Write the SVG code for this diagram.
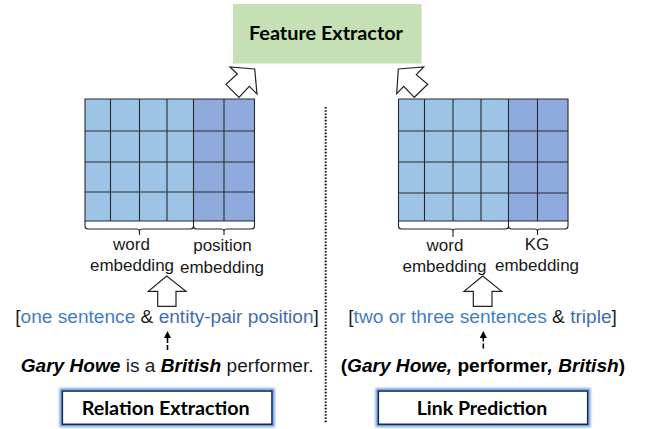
<svg xmlns="http://www.w3.org/2000/svg" width="647" height="429" viewBox="0 0 647 429">
<style>
text{font-family:"Liberation Sans",Arial,sans-serif;font-size:17px;fill:#1a1a1a}
.m{text-anchor:middle}
.s{font-size:19.1px}
.t{font-family:Lato,"Open Sans",sans-serif;font-weight:700;font-size:18px;fill:#000}
.c{fill:#9DC3E6}
.d{fill:#8FAADC}
.g{fill:none;stroke:#2a2a2a;stroke-width:1.1}
.w{fill:#fff;stroke:#222;stroke-width:1.2}
.br{fill:none;stroke:#222;stroke-width:1.1}
.a{fill:#3F7FBF}
.b{fill:#3E6DAF}
.bi{font-weight:700;font-style:italic;fill:#000}
.bo{font-weight:700;fill:#000}
.box{fill:#fff;stroke:#12284c;stroke-width:1.6;filter:url(#glow)}
.da{stroke:#000;stroke-width:1.6;stroke-dasharray:5 2;marker-end:url(#tip)}
</style>
<defs>
<filter id="glow" x="-10%" y="-30%" width="120%" height="160%">
<feMorphology in="SourceAlpha" operator="dilate" radius="1.5" result="e"/>
<feGaussianBlur in="e" stdDeviation="1.1" result="bl"/>
<feFlood flood-color="#6f9fe6"/>
<feComposite in2="bl" operator="in" result="f"/>
<feMerge><feMergeNode in="f"/><feMergeNode in="SourceGraphic"/></feMerge>
</filter>
<marker id="tip" markerWidth="8" markerHeight="7" refX="0" refY="3.500" orient="auto" markerUnits="userSpaceOnUse"><path d="M0 0L7 3.500L0 7Z" fill="#000"/></marker>
</defs>

<g id="feature-extractor">
<rect x="233" y="4" width="188.500" height="59.500" fill="#C5E0B4"/>
<text class="t m" x="326" y="40" textLength="154" lengthAdjust="spacingAndGlyphs">Feature Extractor</text>
</g>

<g id="left-grid">
<rect class="c" x="85" y="99" width="108.500" height="122"/>
<rect class="d" x="193.500" y="99" width="61" height="122"/>
<path class="g" d="M85 221V99H254.500V221ZM110.500 99V221M139.500 99V221M167 99V221M193.500 99V221M224 99V221M85 131H254.500M85 162H254.500M85 192H254.500M85 221H254.500"/>
<path class="br" d="M85 221V226Q85 229 88 229H136Q139.500 229 139.500 231V235M139.500 231Q139.500 229 143 229H190.500Q193.500 229 193.500 226V221M193.500 226Q193.500 229 196.500 229H221Q224 229 224 231V235M224 231Q224 229 227 229H251.500Q254.500 229 254.500 226V221"/>
<text class="m" x="131.500" y="250">word</text>
<text class="m" x="132" y="271">embedding</text>
<text class="m" x="222.500" y="251">position</text>
<text class="m" x="222" y="272.500">embedding</text>
</g>

<g id="right-grid">
<rect class="c" x="398.500" y="99" width="110" height="122"/>
<rect class="d" x="508.500" y="99" width="59.500" height="122"/>
<path class="g" d="M398.500 221V99H568V221ZM424.500 99V221M453 99V221M481 99V221M508.500 99V221M537.500 99V221M398.500 131H568M398.500 162H568M398.500 193H568"/>
<path class="br" d="M398.500 221V226Q398.500 229 401.500 229H450Q453 229 453 231V237M453 231Q453 229 456 229H505.500Q508.500 229 508.500 226V221M508.500 226Q508.500 229 511.500 229H534.500Q537.500 229 537.500 231V235M537.500 231Q537.500 229 540.500 229H565Q568 229 568 226V221"/>
<text class="m" x="445" y="251">word</text>
<text class="m" x="444.500" y="272">embedding</text>
<text class="m" x="537" y="249.500">KG</text>
<text class="m" x="537" y="271">embedding</text>
</g>

<g id="connectors">
<polygon class="w" points="254.700,69 230,67 237.300,74 226,84.300 239,97.300 249.300,86.300 257,94"/>
<polygon class="w" points="398.300,69 423.700,67 416.300,74.700 427.700,84.300 414.300,97.300 403.700,86.300 396.700,93.700"/>
<polygon class="w" points="166.700,276 148.300,291.300 157.700,291.300 157.700,306.300 176,306.300 176,291.300 186,291.300"/>
<polygon class="w" points="482.700,276 464,291.300 473.300,291.300 473.300,306.300 492,306.300 492,291.300 501.700,291.300"/>
<line class="da" x1="167.500" y1="350" x2="167.500" y2="338"/>
<line class="da" x1="483.300" y1="348.500" x2="483.300" y2="338"/>
<line x1="325.700" y1="107" x2="325.700" y2="423" stroke="#111" stroke-width="2" stroke-dasharray="1.600 1.600"/>
</g>

<g id="relation-input">
<text class="s" x="15.300" y="323.300">[<tspan class="a">one sentence</tspan> &amp; <tspan class="b">entity-pair position</tspan>]</text>
<text class="s" x="20.700" y="372.300"><tspan class="bi">Gary Howe</tspan> is a <tspan class="bi">British</tspan> performer.</text>
</g>

<g id="link-input">
<text class="s" x="348.300" y="323.300">[<tspan class="a">two or three sentences</tspan> &amp; <tspan class="b">triple</tspan>]</text>
<text class="s" x="340.700" y="372.300"><tspan class="bo">(</tspan><tspan class="bi">Gary Howe,</tspan><tspan class="bo"> performer</tspan><tspan class="bi">, British</tspan><tspan class="bo">)</tspan></text>
</g>

<g id="relation-extraction">
<rect class="box" x="62.300" y="391" width="209.700" height="33.300"/>
<text class="t m" x="165.700" y="415" textLength="168" lengthAdjust="spacingAndGlyphs">Relation Extraction</text>
</g>

<g id="link-prediction">
<rect class="box" x="378.300" y="391" width="209.400" height="33.300"/>
<text class="t m" x="482" y="415" textLength="130.500" lengthAdjust="spacingAndGlyphs">Link Prediction</text>
</g>
</svg>
